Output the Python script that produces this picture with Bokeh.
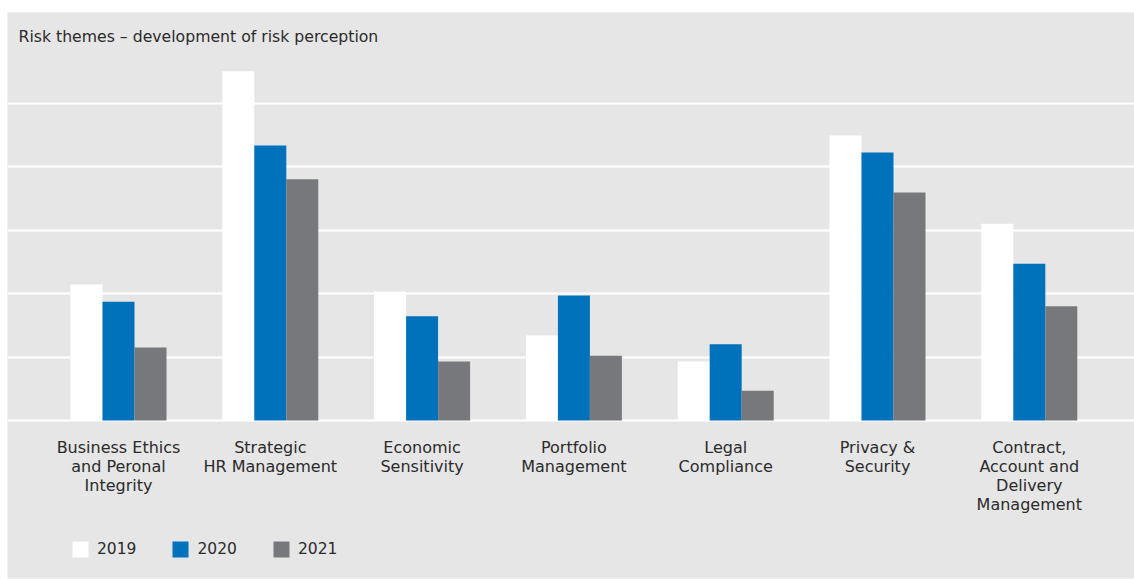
from bokeh.plotting import figure
from bokeh.models import ColumnDataSource, FixedTicker, Legend, LegendItem, Range1d
from bokeh.core.properties import value
from bokeh.embed import file_html
from bokeh.resources import INLINE

categories = [
    "Business Ethics\nand Peronal\nIntegrity",
    "Strategic\nHR Management",
    "Economic\nSensitivity",
    "Portfolio\nManagement",
    "Legal\nCompliance",
    "Privacy &\nSecurity",
    "Contract,\nAccount and\nDelivery\nManagement",
]
years = ["2019", "2020", "2021"]
v2019 = [2.14, 5.50, 2.03, 1.34, 0.93, 4.49, 3.10]
v2020 = [1.87, 4.33, 1.64, 1.97, 1.20, 4.22, 2.47]
v2021 = [1.15, 3.80, 0.93, 1.02, 0.47, 3.59, 1.80]
colors = ["#ffffff", "#0071bb", "#77787b"]
title_text = "Risk themes \u2013 development of risk perception"

FONT = "DejaVu Sans"
TXT = "#2b2b2b"

W, H = 1134, 579
left, top = 7, 12
fw, fh = W - left, H - top - 1
px_x = 151.8   # pixels per category
px_y = 63.5    # pixels per unit
x0 = -(118 - left) / px_x
x1 = x0 + fw / px_x
ytop = (420 - top) / px_y
ybot = ytop - fh / px_y

p = figure(width=W, height=H, output_backend="svg", toolbar_location=None,
           x_range=Range1d(x0, x1), y_range=Range1d(ybot, ytop),
           min_border_left=left, min_border_top=top, min_border_right=0, min_border_bottom=1,
           background_fill_color="#e6e6e6", border_fill_color="#ffffff",
           outline_line_color=None)
p.xaxis.visible = False
p.yaxis.visible = False
p.xgrid.visible = False
p.yaxis.ticker = FixedTicker(ticks=[0, 1, 2, 3, 4, 5])
p.ygrid.ticker = FixedTicker(ticks=[0, 1, 2, 3, 4, 5])
p.ygrid.grid_line_color = "#ffffff"
p.ygrid.grid_line_width = 2

bw = 32 / px_x
xs = list(range(len(categories)))
renderers = []
for k, (yr, vals, c) in enumerate(zip(years, [v2019, v2020, v2021], colors)):
    src = ColumnDataSource(dict(x=[i + (k - 1) * bw for i in xs], top=vals))
    r = p.vbar(x="x", top="top", bottom=0, width=bw, source=src,
               fill_color=c, line_color=None)
    renderers.append(r)

# category labels
lx, ly, lt = [], [], []
for i, cat in enumerate(categories):
    for j, line in enumerate(cat.split("\n")):
        lx.append(i)
        ly.append((420 - 447 - 19 * j) / px_y)
        lt.append(line)
p.text(x=lx, y=ly, text=lt, text_align="center", text_baseline="middle",
       text_font=value(FONT), text_font_size="16px", text_color=TXT)

# title
p.text(x=[x0 + (18 - left) / px_x], y=[(420 - 36) / px_y], text=[title_text],
       text_align="left", text_baseline="middle",
       text_font=value(FONT), text_font_size="15.7px", text_color=TXT)

legend = Legend(items=[LegendItem(label=y, renderers=[r]) for y, r in zip(years, renderers)],
                orientation="horizontal", location=(63, 19),
                glyph_width=20, glyph_height=20, label_standoff=7, spacing=34,
                padding=0, margin=0, border_line_color=None,
                background_fill_alpha=0, label_text_font=FONT,
                label_text_font_size="15.5px", label_text_color=TXT,
                label_height=20)
p.add_layout(legend, "center")

open("out.html", "w").write(file_html(p, INLINE))
